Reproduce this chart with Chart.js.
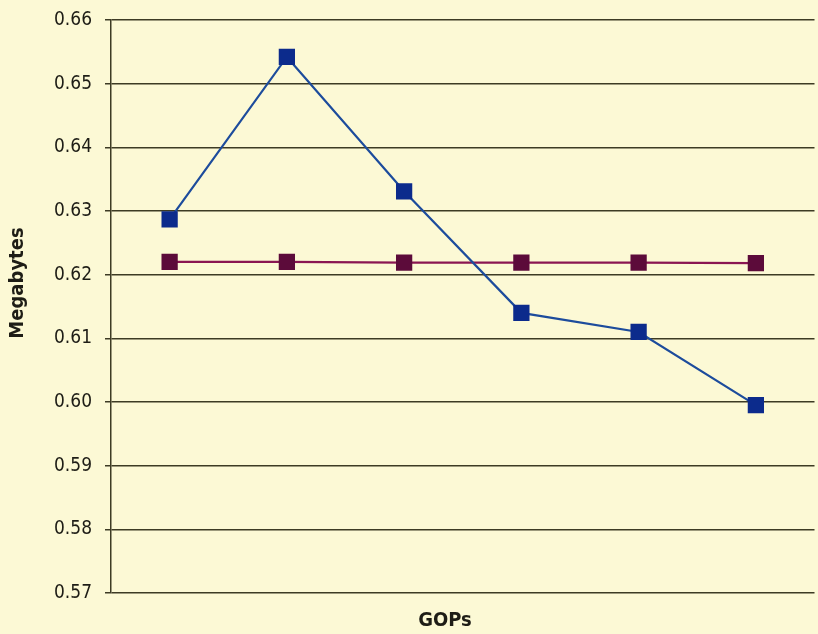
<!DOCTYPE html>
<html>
<head>
<meta charset="utf-8">
<script src="https://cdn.jsdelivr.net/npm/chart.js@4/dist/chart.umd.min.js"></script>
<style>
  html, body { margin: 0; padding: 0; background: #fcf9d5; overflow: hidden; }
  canvas { display: block; }
</style>
</head>
<body>
<canvas id="chart" width="826" height="634"></canvas>
<script>
// GOP index along the x axis (no tick labels are shown)
const gops = ['1', '2', '3', '4', '5', '6'];
// File size in megabytes per GOP setting
const variableSize = [0.6287, 0.6542, 0.6331, 0.6140, 0.6110, 0.5995];
const fixedSize = [0.6220, 0.6220, 0.6219, 0.6219, 0.6219, 0.6218];
// Y axis tick values
const yTickValues = [0.57, 0.58, 0.59, 0.60, 0.61, 0.62, 0.63, 0.64, 0.65, 0.66];

const narrowFont = '"Liberation Sans Narrow", "DejaVu Sans Condensed", sans-serif';
const inkColor = '#1e1d16';
const gridColor = '#3d3b24';

// Axis titles placed by hand so they sit where the layout wants them
const axisTitles = {
  id: 'axisTitles',
  afterDraw(chart) {
    const ctx = chart.ctx;
    ctx.save();
    ctx.fillStyle = inkColor;
    ctx.font = 'bold 20px ' + narrowFont;
    ctx.textAlign = 'center';
    ctx.textBaseline = 'middle';
    ctx.fillText('GOPs', 445, 621);
    ctx.translate(18, 283);
    ctx.rotate(-Math.PI / 2);
    ctx.fillText('Megabytes', 0, 0);
    ctx.restore();
  }
};

new Chart(document.getElementById('chart'), {
  type: 'line',
  data: {
    labels: gops,
    datasets: [
      {
        label: 'Variable',
        data: variableSize,
        borderColor: '#1d4c9c',
        borderWidth: 2.2,
        backgroundColor: '#0c2b8c',
        pointStyle: 'rect',
        pointRadius: 11.5,
        pointHoverRadius: 11.5,
        pointBorderWidth: 0,
        pointBackgroundColor: '#0c2b8c',
        tension: 0
      },
      {
        label: 'Fixed',
        data: fixedSize,
        borderColor: '#8a1652',
        borderWidth: 2.2,
        backgroundColor: '#5c0b3a',
        pointStyle: 'rect',
        pointRadius: 11.5,
        pointHoverRadius: 11.5,
        pointBorderWidth: 0,
        pointBackgroundColor: '#5c0b3a',
        tension: 0
      }
    ]
  },
  options: {
    responsive: false,
    animation: false,
    layout: { padding: { top: 20, right: 1, left: 0, bottom: 0 } },
    plugins: {
      legend: { display: false },
      tooltip: { enabled: false },
      title: { display: false }
    },
    scales: {
      x: {
        type: 'category',
        offset: true,
        grid: { display: false },
        border: { display: false },
        ticks: { display: false },
        afterFit(scale) {
          scale.height = 41;
          scale.paddingLeft = 0;
          scale.paddingRight = 0;
        }
      },
      y: {
        min: 0.57,
        max: 0.66,
        afterBuildTicks(scale) {
          scale.ticks = yTickValues.map(v => ({ value: v }));
        },
        afterFit(scale) {
          scale.width = 111;
          scale.paddingTop = 0;
          scale.paddingBottom = 0;
        },
        grid: {
          color: gridColor,
          lineWidth: 1.5,
          drawTicks: true,
          tickLength: 6,
          tickColor: gridColor
        },
        border: { display: true, color: gridColor, width: 1.5 },
        ticks: {
          padding: 13,
          color: inkColor,
          font: { family: narrowFont, size: 19 },
          callback: v => Number(v).toFixed(2)
        }
      }
    }
  },
  plugins: [axisTitles]
});
</script>
</body>
</html>
